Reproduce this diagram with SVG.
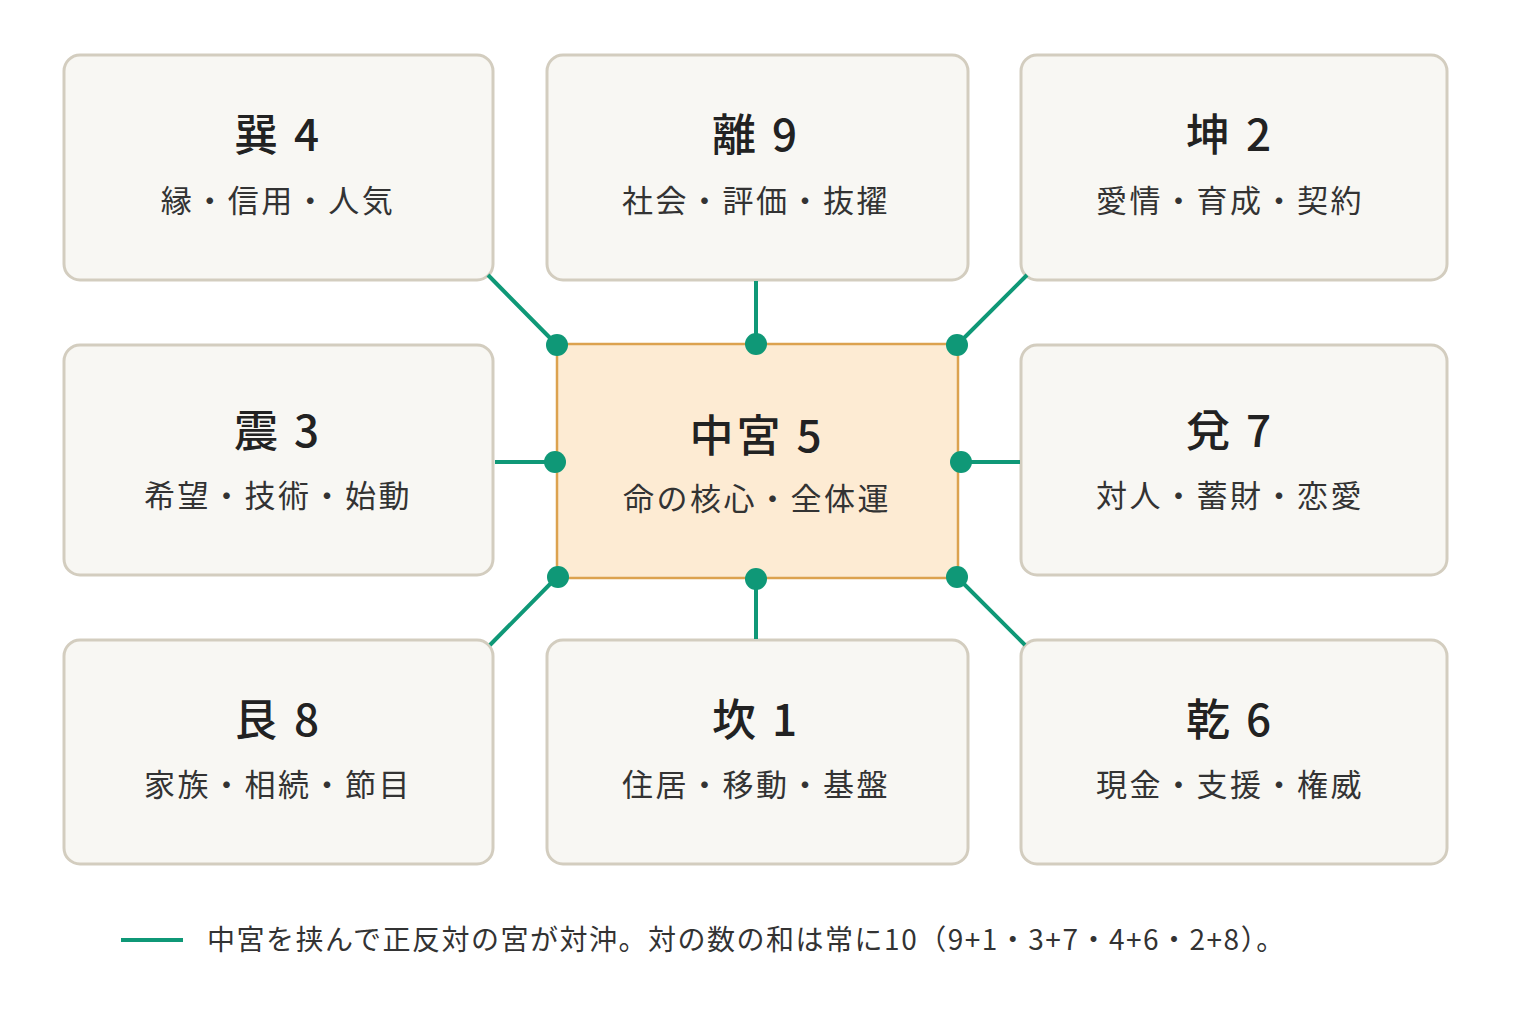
<svg xmlns="http://www.w3.org/2000/svg" width="1536" height="1024" viewBox="0 0 1536 1024">
<style>
.box{fill:#f8f7f3;stroke:#d3cdbf;stroke-width:3}
.c{fill:#fdebd3;stroke:#dca24f;stroke-width:2.5}
text{font-family:"Noto Sans CJK JP","Noto Sans",sans-serif;fill:#222;text-anchor:middle}
.t{font-size:44px;font-weight:500;letter-spacing:3px}
.s{font-size:31px;fill:#333;letter-spacing:2.5px}
.ln{stroke:#0f9877;stroke-width:4;fill:none}
.d{fill:#0f9877}
</style>
<rect width="1536" height="1024" fill="#fff"/>
<g id="n4"><rect class="box" x="64" y="55" width="429" height="225" rx="16"/><text class="t" x="278" y="151">巽 4</text><text class="s" x="278" y="212">縁・信用・人気</text></g>
<g id="n9"><rect class="box" x="547" y="55" width="421" height="225" rx="16"/><text class="t" x="756" y="151">離 9</text><text class="s" x="756" y="212">社会・評価・抜擢</text></g>
<g id="n2"><rect class="box" x="1021" y="55" width="426" height="225" rx="16"/><text class="t" x="1230" y="151">坤 2</text><text class="s" x="1230" y="212">愛情・育成・契約</text></g>
<g id="n3"><rect class="box" x="64" y="345" width="429" height="230" rx="16"/><text class="t" x="278" y="447">震 3</text><text class="s" x="278" y="507">希望・技術・始動</text></g>
<g id="n5"><rect class="c" x="557" y="344" width="401" height="234" rx="12"/><text class="t" x="757" y="452">中宮 5</text><text class="s" x="757" y="510">命の核心・全体運</text></g>
<g id="n7"><rect class="box" x="1021" y="345" width="426" height="230" rx="16"/><text class="t" x="1230" y="447">兌 7</text><text class="s" x="1230" y="507">対人・蓄財・恋愛</text></g>
<g id="n8"><rect class="box" x="64" y="640" width="429" height="224" rx="16"/><text class="t" x="278" y="736">艮 8</text><text class="s" x="278" y="796">家族・相続・節目</text></g>
<g id="n1"><rect class="box" x="547" y="640" width="421" height="224" rx="16"/><text class="t" x="756" y="736">坎 1</text><text class="s" x="756" y="796">住居・移動・基盤</text></g>
<g id="n6"><rect class="box" x="1021" y="640" width="426" height="224" rx="16"/><text class="t" x="1230" y="736">乾 6</text><text class="s" x="1230" y="796">現金・支援・権威</text></g>
<g id="connectors">
<path class="ln" d="M488 275L557 345M756 281V344M1027 275L957 345M495 462H555M960 462H1020M490 645L557 577M756 578V639M1025 645L957 577"/>
<circle class="d" cx="557" cy="345" r="11"/><circle class="d" cx="756" cy="344" r="11"/><circle class="d" cx="957" cy="345" r="11"/>
<circle class="d" cx="555" cy="462" r="11"/><circle class="d" cx="961" cy="462" r="11"/>
<circle class="d" cx="558" cy="577" r="11"/><circle class="d" cx="756" cy="579" r="11"/><circle class="d" cx="957" cy="577" r="11"/>
</g>
<g id="legend"><path class="ln" d="M121 940H183"/><text x="207" y="950" style="font-size:28px;text-anchor:start;fill:#333;letter-spacing:1.5px">中宮を挟んで正反対の宮が対沖。対の数の和は常に10（9+1・3+7・4+6・2+8）。</text></g>
</svg>
